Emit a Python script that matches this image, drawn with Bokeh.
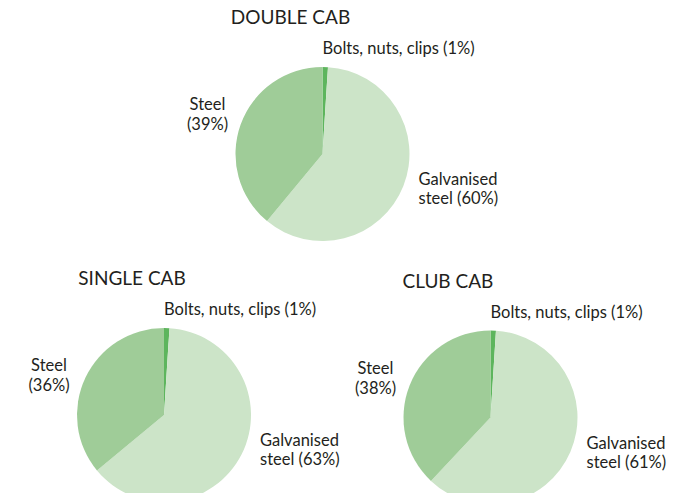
import numpy as np
from bokeh.plotting import figure
from bokeh.models import Range1d, ColumnDataSource
from bokeh.core.properties import value
from bokeh.embed import file_html
from bokeh.resources import INLINE

# ---- data ----
titles = ["DOUBLE CAB", "SINGLE CAB", "CLUB CAB"]
segments = ["Bolts, nuts, clips", "Galvanised steel", "Steel"]
bolts = [1, 1, 1]
galvanised = [60, 63, 61]
steel = [39, 36, 38]
colors = ["#5db55d", "#cce4c8", "#9fcc98"]

# ---- layout ----
W, H = 685, 493
centers = [(322, 153.5), (163.5, 414.5), (490, 417)]  # picture pixels
R = 87
FONT = value("Lato")
TXT = "#231f20"
SHIFT = -8

def Y(py):
    return H - py

p = figure(width=W, height=H, x_range=Range1d(0, W), y_range=Range1d(0, H),
           output_backend="svg", toolbar_location=None, min_border=0)
p.axis.visible = False
p.grid.visible = False
p.outline_line_color = None
p.background_fill_color = "white"

wx, wy, ws, we, wc = [], [], [], [], []
tx, ty, tt, ta, tsz = [], [], [], [], []

for i, (cx, cy) in enumerate(centers):
    vals = [bolts[i], galvanised[i], steel[i]]
    tot = sum(vals)
    cum = 0.0
    for v, c in zip(vals, colors):
        a0 = np.pi / 2 - 2 * np.pi * cum / tot
        cum += v
        a1 = np.pi / 2 - 2 * np.pi * cum / tot
        wx.append(cx); wy.append(Y(cy)); ws.append(a1); we.append(a0); wc.append(c)

    def add(dx, dy, s, align, size):
        tx.append(cx + dx); ty.append(Y(cy + dy + SHIFT)); tt.append(s); ta.append(align); tsz.append(size)

    add(-85 + len(titles[i]) * 5.3, -129.5, titles[i], "center", "19px")
    add(0, -98, f"{segments[0]} ({bolts[i]}%)", "left", "16.5px")
    add(-115, -42, "Steel", "center", "16.5px")
    add(-115, -22, f"({steel[i]}%)", "center", "16.5px")
    add(96, 33, "Galvanised", "left", "16.5px")
    add(96, 52, f"steel ({galvanised[i]}%)", "left", "16.5px")

src = ColumnDataSource(dict(x=wx, y=wy, s=ws, e=we, c=wc))
p.wedge(x="x", y="y", radius=R, start_angle="s", end_angle="e", fill_color="c",
        line_color=None, source=src)

tsrc = ColumnDataSource(dict(x=tx, y=ty, t=tt, a=ta, f=tsz))
p.text(x="x", y="y", text="t", text_align="a", text_font_size="f", text_baseline="alphabetic",
       text_font=FONT, text_color=TXT, source=tsrc)

open("out.html", "w").write(file_html(p, INLINE))
